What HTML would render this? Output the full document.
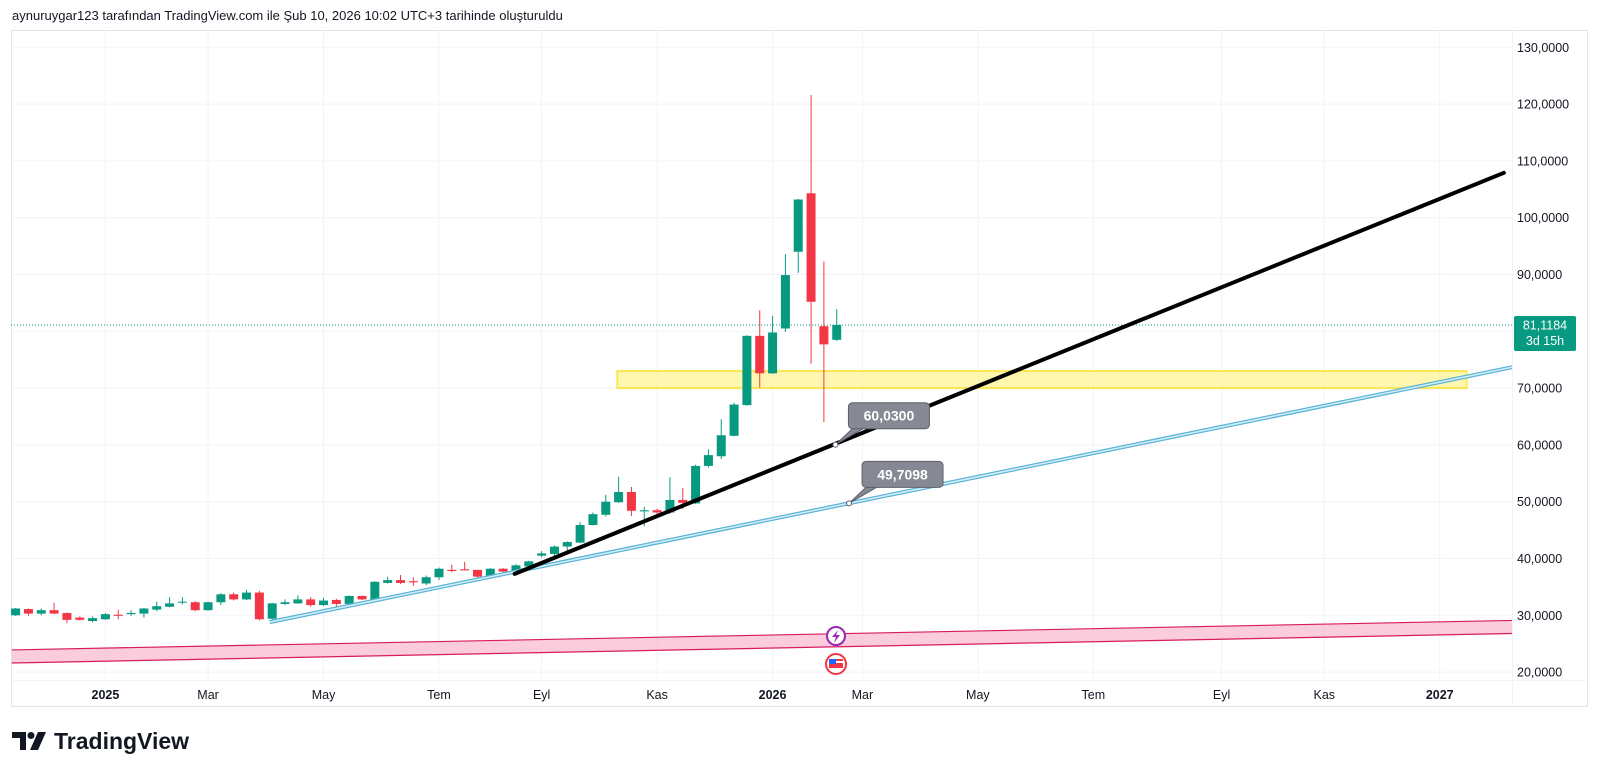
<!DOCTYPE html>
<html><head><meta charset="utf-8">
<style>
html,body{margin:0;padding:0;background:#fff;width:1600px;height:776px;overflow:hidden;font-family:"Liberation Sans",sans-serif}
#hdr{position:absolute;left:12px;top:8px;font-size:13px;color:#131722}
#logo{position:absolute;left:12px;top:728px;font-size:23px;font-weight:bold;color:#131722;display:flex;align-items:center}
svg{position:absolute;left:0;top:0}
</style></head>
<body>
<div id="hdr">aynuruygar123 tarafından TradingView.com ile Şub 10, 2026 10:02 UTC+3 tarihinde oluşturuldu</div>
<div id="logo"><svg width="36" height="24" style="position:static;margin-right:6px" viewBox="0 0 36 24"><path d="M0 2h14v18h-6V8H0z" fill="#131722"/><circle cx="19" cy="5.5" r="3.5" fill="#131722"/><path d="M26 2h8l-8 18h-8z" fill="#131722"/></svg>TradingView</div>
<svg id="chart" width="1600" height="776"></svg>
<script>
const opens =[30.0,31.1,30.3,30.9,30.4,29.6,29.0,29.3,30.1,30.2,30.3,31.0,31.5,32.3,32.3,30.9,32.3,33.7,32.8,34.0,29.4,32.0,32.1,32.8,31.8,32.7,32.0,33.4,32.7,35.7,36.2,36.0,35.6,36.7,38.0,38.1,38.0,36.8,38.2,37.8,38.6,40.5,40.8,42.1,42.8,45.9,47.7,49.9,51.7,48.3,48.5,48.1,50.3,49.7,56.3,58.0,61.6,67.0,79.2,72.6,80.5,94.0,104.3,80.9,78.5];
const highs =[31.3,31.2,31.2,32.2,30.5,29.8,29.8,30.4,31.0,30.9,31.3,32.4,33.2,33.2,32.5,32.4,33.9,34.0,34.5,34.3,32.2,32.8,33.5,33.2,33.1,32.9,33.5,33.5,36.0,36.8,37.1,36.7,37.0,38.4,38.9,39.4,38.0,38.3,38.3,39.0,39.6,41.3,42.3,43.0,46.4,48.1,51.2,54.4,52.6,49.1,48.8,54.3,52.4,56.5,59.2,64.5,67.4,79.3,83.7,82.7,93.6,103.3,121.6,92.3,83.9];
const lows  =[29.9,29.9,30.0,30.2,28.6,29.1,28.8,29.2,29.3,29.9,29.6,30.7,31.4,31.9,30.7,30.8,31.8,32.6,32.7,29.1,29.0,31.8,32.0,31.5,31.6,31.5,31.9,32.7,32.6,35.6,35.5,35.2,35.3,36.2,37.6,37.9,36.2,36.7,37.4,37.6,38.4,40.2,40.4,41.0,42.7,45.8,47.4,49.8,47.5,45.7,47.2,47.9,48.7,49.6,56.0,57.5,61.5,66.9,70.1,72.5,79.9,90.3,74.3,64.0,78.3];
const closes=[31.2,30.3,30.9,30.3,29.2,29.2,29.5,30.2,29.9,30.4,31.2,31.6,32.1,32.4,30.9,32.3,33.7,32.8,34.0,29.3,32.1,32.3,32.8,31.8,32.6,32.0,33.4,32.8,35.9,36.2,35.7,35.8,36.7,38.2,37.8,37.9,36.8,38.2,37.7,38.8,39.5,40.9,42.1,42.9,45.9,47.8,50.0,51.7,48.4,48.5,48.1,50.3,49.8,56.3,58.2,61.7,67.1,79.2,72.6,79.8,89.9,103.2,85.2,77.7,81.1184];
const timeTickLabels=["2025","Mar","May","Tem","Eyl","Kas","2026","Mar","May","Tem","Eyl","Kas","2027"];
const timeTickBars=[7,15,24,33,41,50,59,66,75,84,94,102,111];
const priceTicks=[20,30,40,50,60,70,80,90,100,110,120,130];
const lastPrice=81.1184;
const blackLine=[[38.9,37.3],[116.0,107.9]];
const blueLine=[[19.8,28.8],[116.7,73.7]];
const zoneBars=[46.9,113.1];
const zonePrices=[70.0,73.0];
const bandTop=[[-0.3,23.9],[116.7,29.1]];
const bandBottom=[[-0.3,21.6],[116.7,26.8]];
const labelA=[63.9,60.03];
const labelB=[64.96,49.7098];

const NS="http://www.w3.org/2000/svg";
const svg=document.getElementById('chart');
const PL=11,PR=1512,PT=30,PB=680;
function X(i){return 15.6+i*12.83;}
function Y(p){return 47.3+(130-p)*5.68;}
function el(t,a,parent){const e=document.createElementNS(NS,t);for(const k in a)e.setAttribute(k,a[k]);(parent||svg).appendChild(e);return e;}

const frame=el('rect',{x:11.5,y:30.5,width:1576,height:676,fill:'none',stroke:'#e0e3eb'});


const grid=el('g',{});


priceTicks.forEach(p=>{el('line',{x1:PL,x2:PR,y1:Y(p),y2:Y(p),stroke:'#f0f3fa'},grid);});
timeTickBars.forEach(b=>{el('line',{x1:X(b),x2:X(b),y1:PT,y2:PB,stroke:'#f0f3fa'},grid);});
const defs=el('defs',{});
const cp=el('clipPath',{id:'plot'},defs);
el('rect',{x:PL,y:PT,width:PR-PL,height:PB-PT},cp);
const plot=el('g',{'clip-path':'url(#plot)'});



const bandPts=[bandTop[0],bandTop[1],bandBottom[1],bandBottom[0]].map(q=>X(q[0])+','+Y(q[1])).join(' ');
const band=el('polygon',{points:bandPts,fill:'#f8bbd0',opacity:0.75},plot);


[bandTop,bandBottom].forEach(l=>{const ln=el('line',{x1:X(l[0][0]),y1:Y(l[0][1]),x2:X(l[1][0]),y2:Y(l[1][1]),stroke:'#d81b60','stroke-width':1.2},plot);

});

const zone=el('rect',{x:X(zoneBars[0]),y:Y(zonePrices[1]),width:X(zoneBars[1])-X(zoneBars[0]),height:Y(zonePrices[0])-Y(zonePrices[1]),fill:'#fff59d',opacity:0.8,stroke:'#fbe22b','stroke-width':2},plot);



const lp=el('line',{x1:PL,x2:PR,y1:Y(lastPrice),y2:Y(lastPrice),stroke:'#089981','stroke-dasharray':'1,2'},plot);



opens.forEach((o,i)=>{
  const c=closes[i],up=c>=o,col=up?'#089981':'#f23645';
  const g=el('g',{},plot);
  
  
  const x=X(i);
  el('line',{x1:x,x2:x,y1:Y(highs[i]),y2:Y(lows[i]),stroke:col,'stroke-width':1},g);
  const top=Y(Math.max(o,c)),bot=Y(Math.min(o,c));
  el('rect',{x:x-4.5,y:top,width:9,height:Math.max(1,bot-top),fill:col},g);
});

const bl=el('g',{},plot);


el('line',{x1:X(blueLine[0][0]),y1:Y(blueLine[0][1]),x2:X(blueLine[1][0]),y2:Y(blueLine[1][1]),stroke:'#5ab4d6','stroke-width':4},bl);
el('line',{x1:X(blueLine[0][0]),y1:Y(blueLine[0][1]),x2:X(blueLine[1][0]),y2:Y(blueLine[1][1]),stroke:'#d6eef8','stroke-width':1.5},bl);
const bk=el('line',{x1:X(blackLine[0][0]),y1:Y(blackLine[0][1]),x2:X(blackLine[1][0]),y2:Y(blackLine[1][1]),stroke:'#000','stroke-width':4,'stroke-linecap':'round'},plot);



function callout(pt,name){
  const px=X(pt[0]),py=Y(pt[1]);
  const g=el('g',{},plot);
  
  
  const bx=px+13,by=py-42;
  el('path',{d:`M${px},${py} L${bx+6},${by+24} L${bx+18},${by+24} Z`,fill:'#868993',stroke:'#5d606b'},g);
  el('rect',{x:bx,y:by,width:81,height:26,rx:4,fill:'#868993',stroke:'#5d606b'},g);
  el('circle',{cx:px,cy:py,r:2.5,fill:'#fff',stroke:'#5d606b'},g);
  const t=el('text',{x:bx+40.5,y:by+18,'text-anchor':'middle','font-size':14,'font-weight':'bold',fill:'#fff'},g);
  t.textContent=pt[1].toFixed(4).replace('.',',');
}
callout(labelA,'label-60-0300');
callout(labelB,'label-49-7098');

const ev1=el('g',{},plot);


el('circle',{cx:836,cy:636,r:9,fill:'#fff',stroke:'#9c27b0','stroke-width':2},ev1);
el('path',{d:'M838,630 L832,637 L836,637 L834,643 L840,635 L836,635 Z',fill:'#9c27b0'},ev1);
const ev2=el('g',{},plot);


el('circle',{cx:836,cy:664,r:10,fill:'#fff',stroke:'#f23645','stroke-width':2},ev2);
el('rect',{x:829,y:659,width:14,height:9,fill:'#f23645'},ev2);
el('rect',{x:829,y:661,width:14,height:2,fill:'#fff'},ev2);
el('rect',{x:829,y:659,width:7,height:5,fill:'#2962ff'},ev2);

const pa=el('g',{});


el('line',{x1:PR+0.5,x2:PR+0.5,y1:PT,y2:706,stroke:'#f0f3fa'},pa);
priceTicks.forEach(p=>{const t=el('text',{x:1517,y:Y(p)+4.5,'font-size':12.5,fill:'#131722'},pa);t.textContent=p.toFixed(4).replace('.',',');

});
const pl=el('g',{},pa);


el('rect',{x:1514,y:Y(lastPrice)-9,width:62,height:35,rx:2,fill:'#089981'},pl);
const t1=el('text',{x:1545,y:Y(lastPrice)+4.5,'text-anchor':'middle','font-size':12.5,fill:'#fff'},pl);t1.textContent=lastPrice.toFixed(4).replace('.',',');
const t2=el('text',{x:1545,y:Y(lastPrice)+20,'text-anchor':'middle','font-size':12.5,fill:'#fff'},pl);t2.textContent='3d 15h';

const ta=el('g',{});


el('line',{x1:PL,x2:1588,y1:PB+0.5,y2:PB+0.5,stroke:'#f0f3fa'},ta);
timeTickLabels.forEach((s,k)=>{const yr=/^\d{4}$/.test(s);const t=el('text',{x:X(timeTickBars[k]),y:699,'text-anchor':'middle','font-size':12.5,'font-weight':yr?'bold':'normal',fill:'#131722'},ta);t.textContent=s;

});
</script>
</body></html>
